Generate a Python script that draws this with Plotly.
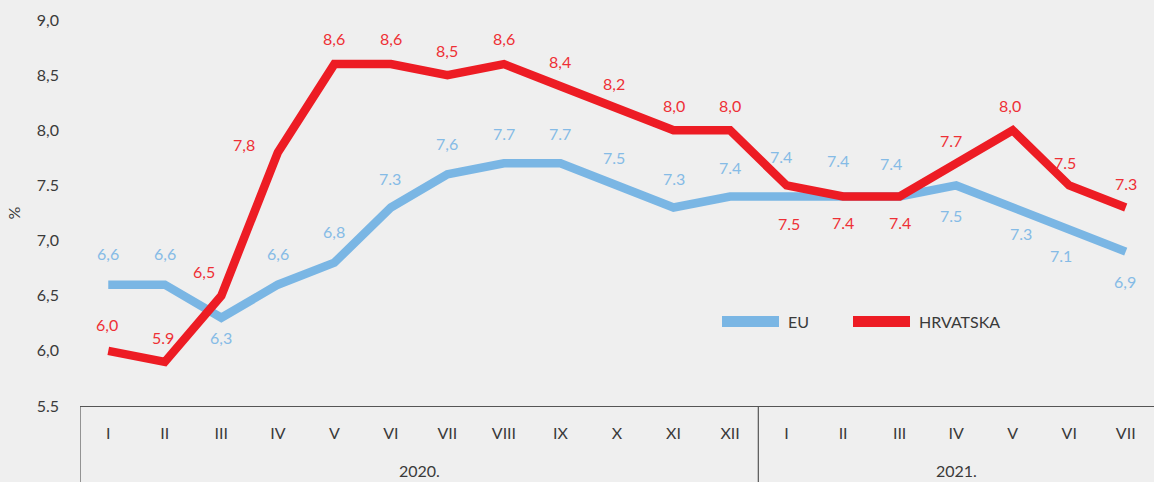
import plotly.graph_objects as go

# ---------------- data ----------------
months = ["I", "II", "III", "IV", "V", "VI", "VII", "VIII", "IX", "X", "XI", "XII",
          "I", "II", "III", "IV", "V", "VI", "VII"]
years = ["2020.", "2021."]
year_spans = [(0, 11), (12, 18)]

series_names = ["EU", "HRVATSKA"]
eu = [6.6, 6.6, 6.3, 6.6, 6.8, 7.3, 7.6, 7.7, 7.7, 7.5, 7.3, 7.4,
      7.4, 7.4, 7.4, 7.5, 7.3, 7.1, 6.9]
hr = [6.0, 5.9, 6.5, 7.8, 8.6, 8.6, 8.5, 8.6, 8.4, 8.2, 8.0, 8.0,
      7.5, 7.4, 7.4, 7.7, 8.0, 7.5, 7.3]

eu_labels = ["6,6", "6,6", "6,3", "6,6", "6,8", "7.3", "7,6", "7.7", "7.7", "7.5", "7.3", "7.4",
             "7.4", "7.4", "7.4", "7.5", "7.3", "7.1", "6,9"]
hr_labels = ["6,0", "5.9", "6,5", "7,8", "8,6", "8,6", "8,5", "8,6", "8,4", "8,2", "8,0", "8,0",
             "7.5", "7.4", "7.4", "7.7", "8,0", "7.5", "7.3"]

ytick_vals = [5.5, 6.0, 6.5, 7.0, 7.5, 8.0, 8.5, 9.0]
ytick_text = ["5.5", "6,0", "6,5", "7,0", "7.5", "8,0", "8,5", "9,0"]

# label placement (screen px offsets: dx right, dy down)
eu_dx = [0, 0, 0, 0, 0, -1, 0, 0, 0, -3, 0, 0, -6, -5, -9, -5, 8, -8, -1]
eu_dy = [-31, -31, 20, -31, -31, -29, -31, -30, -30, -28, -29, -29, -40, -36, -33, 30, 26, 26, 30]
hr_dx = [-1, -2, -17, -34, 0, 0, 0, 0, 0, -3, 0, 0, 2, 0, 0, -5, -3, -4, 0]
hr_dy = [-26, -24, -24, -8, -26, -26, -25, -26, -25, -25, -25, -25, 38, 26, 26, -23, -25, -23, -24]

# ---------------- style ----------------
W, H = 1154, 482
ML, MR, MT, MB = 80, 0, 20, 76
PW, PH = W - ML - MR, H - MT - MB

BG = "#efefef"
BLUE = "#7ab6e4"
RED = "#ed1c24"
BLUE_TXT = "#85bbe6"
RED_TXT = "#ee2f36"
DARK = "#3a3a3a"
LINE = "#555555"
FONT = "Lato"
FS = 16

xs = list(range(len(months)))

fig = go.Figure()
fig.add_trace(go.Scatter(x=xs, y=eu, mode="lines", name=series_names[0],
                         line=dict(color=BLUE, width=8.5), showlegend=False))
fig.add_trace(go.Scatter(x=xs, y=hr, mode="lines", name=series_names[1],
                         line=dict(color=RED, width=8.5), showlegend=False))

annotations = []
for i, (v, t) in enumerate(zip(eu, eu_labels)):
    annotations.append(dict(x=i, y=v, text=t, showarrow=False, xshift=eu_dx[i], yshift=-eu_dy[i],
                            font=dict(family=FONT, size=FS, color=BLUE_TXT)))
for i, (v, t) in enumerate(zip(hr, hr_labels)):
    annotations.append(dict(x=i, y=v, text=t, showarrow=False, xshift=hr_dx[i], yshift=-hr_dy[i],
                            font=dict(family=FONT, size=FS, color=RED_TXT)))
for (a, b), yr in zip(year_spans, years):
    annotations.append(dict(x=(a + b) / 2, xref="x", y=0, yref="paper", yshift=-76,
                            text=yr, showarrow=False,
                            font=dict(family=FONT, size=16, color=DARK)))

shapes = []
for (a, b) in year_spans:
    shapes.append(dict(type="line", xref="x", yref="paper", x0=a - 0.5, x1=a - 0.5,
                       y0=0, y1=-0.25, line=dict(color=LINE, width=1.2)))

# manual legend (line swatch + text), positioned in paper coordinates
legend_items = [(series_names[0], BLUE, 722), (series_names[1], RED, 853)]
leg_y = (MT + PH - 321.5) / PH
for name, col, px in legend_items:
    x0 = (px - ML) / PW
    x1 = (px + 57 - ML) / PW
    shapes.append(dict(type="rect", xref="paper", yref="paper", x0=x0, x1=x1,
                       y0=leg_y - 5.5 / PH, y1=leg_y + 5.5 / PH,
                       fillcolor=col, line=dict(width=0)))
    annotations.append(dict(x=(px + 64 - ML) / PW, y=leg_y, xref="paper", yref="paper",
                            xanchor="left", yanchor="middle", text=name, showarrow=False,
                            font=dict(family=FONT, size=FS, color=DARK)))

fig.update_layout(
    width=W, height=H,
    margin=dict(l=ML, r=MR, t=MT, b=MB),
    paper_bgcolor=BG, plot_bgcolor=BG,
    font=dict(family=FONT, size=FS, color=DARK),
    showlegend=False,
    annotations=annotations,
    shapes=shapes,
    xaxis=dict(range=[-0.5, len(months) - 0.5], tickvals=xs, ticktext=months,
               showgrid=False, zeroline=False, showline=True, linecolor=LINE, linewidth=1.2,
               ticks="", ticklabelstandoff=13, tickfont=dict(family=FONT, size=FS, color=DARK),
               fixedrange=True),
    yaxis=dict(range=[5.5, 9.0], tickvals=ytick_vals, ticktext=ytick_text,
               showgrid=False, zeroline=False, showline=False, ticks="",
               ticklabelstandoff=20, tickfont=dict(family=FONT, size=FS, color=DARK),
               title=dict(text="%", standoff=12, font=dict(family=FONT, size=FS, color=DARK)),
               fixedrange=True),
)

fig.write_html("out.html", config={"displayModeBar": False},
               post_script="document.body.style.margin='0';document.body.style.background='%s';" % BG)
